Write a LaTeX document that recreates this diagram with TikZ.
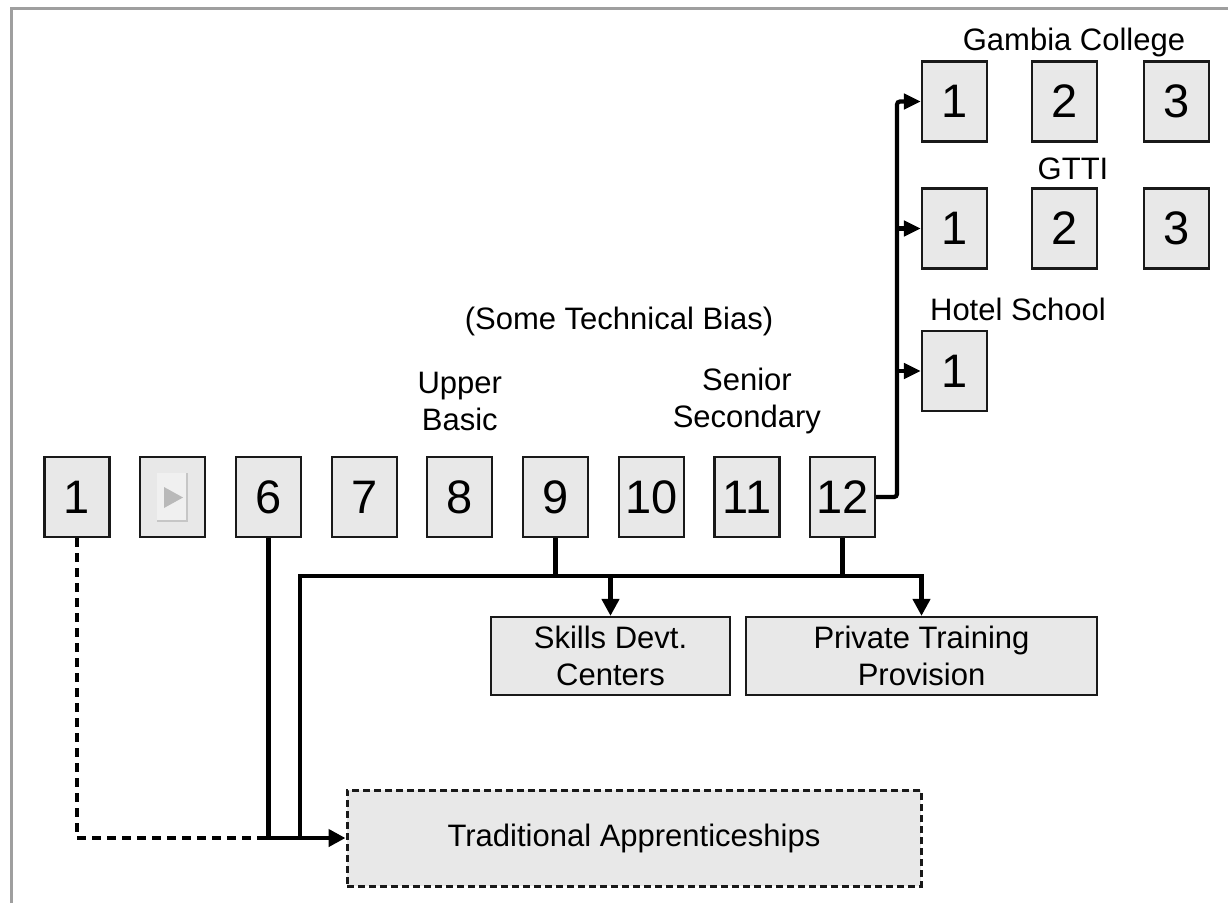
\documentclass[tikz,border=0pt]{standalone}
\usepackage{fontspec}
\setmainfont{Liberation Sans}
\usetikzlibrary{arrows.meta}
\definecolor{boxgray}{HTML}{E8E8E8}
\newcommand\digitfont{\fontsize{47}{50}\selectfont}
\newcommand\labelfont{\fontsize{31}{37}\selectfont}
\begin{document}
\begin{tikzpicture}[x=1pt,y=-1pt,
  yearbox/.style={draw=black!90, line width=2.2pt, fill=boxgray, minimum width=65pt, minimum height=80pt, inner sep=0pt, font=\digitfont},
  destbox/.style={draw=black!90, line width=2.2pt, fill=boxgray, minimum height=78pt, inner sep=0pt, align=center, font=\labelfont},
  lab/.style={font=\labelfont, align=center, inner sep=0pt},
  conn/.style={line width=4.6pt, black},
  arr/.style={conn, -{Triangle[length=17pt,width=17pt]}},
  sarr/.style={line width=4.2pt, black, -{Triangle[length=17pt,width=15pt]}},
  dconn/.style={line width=4pt, black, dash pattern=on 9pt off 6pt}
]
\useasboundingbox (0,0) rectangle (1228,903);
\draw[gray!75, line width=3pt] (11,903) -- (11,8) -- (1228,8);

% year boxes
\node[yearbox] (b1) at (77,497) {1};
\node[yearbox] (b2) at (172.7,497) {};
\node[yearbox] (b6) at (268.4,497) {6};
\node[yearbox] (b7) at (364.1,497) {7};
\node[yearbox] (b8) at (459.8,497) {8};
\node[yearbox] (b9) at (555.5,497) {9};
\node[yearbox] (b10) at (651.2,497) {10};
\node[yearbox] (b11) at (746.9,497) {11};
\node[yearbox] (b12) at (842.6,497) {12};

% play icon in b2
\fill[gray!12] (157,473) rectangle (188,522);
\draw[gray!45, line width=1.5pt] (187,473) -- (187,521) -- (157,521);
\fill[gray!55] (164,487) -- (183,497.5) -- (164,508) -- cycle;

% labels
\node[lab] (ub) at (459.8,401) {Upper\\Basic};
\node[lab] (ss) at (746.9,401) {Senior\\Secondary};
\node[lab] (tb) at (619,321) {(Some Technical Bias)};

% right column
\node[yearbox] (g1) at (954.5,101.5) {1};
\node[yearbox] (g2) at (1064.5,101.5) {2};
\node[yearbox] (g3) at (1176.5,101.5) {3};
\node[yearbox] (t1) at (954.5,228.5) {1};
\node[yearbox] (t2) at (1064.5,228.5) {2};
\node[yearbox] (t3) at (1176.5,228.5) {3};
\node[yearbox] (h1) at (954.5,371) {1};
\node[lab] (gc) at (1074,42) {Gambia College};
\node[lab] (gt) at (1073,169) {GTTI};
\node[lab] (hs) at (1018,309) {Hotel School};

% destination boxes
\node[destbox, minimum width=239pt] (skills) at (610.5,656) {Skills Devt.\\Centers};
\node[destbox, minimum width=351pt] (pvt) at (921.5,656) {Private Training\\Provision};
\node[destbox, dash pattern=on 7pt off 4pt, line width=3pt, minimum width=574pt, minimum height=96pt] (trad) at (634,838) {Traditional Apprenticeships};

% connectors to right column
\coordinate (spine) at (897,0);
\draw[sarr, rounded corners=3pt] (b12.east) -| (spine |- g1.west) -- (g1.west);
\draw[sarr] (spine |- t1.west) -- (t1.west);
\draw[sarr] (spine |- h1.west) -- (h1.west);

% bus
\coordinate (busL) at (300,576);
\draw[conn] (b9.south) -- (b9.south |- busL);
\draw[conn] (b12.south) -- (b12.south |- busL);
\draw[arr] (busL |- trad.west) -- (busL) -- (pvt.north |- busL) -- (pvt.north);
\draw[arr] (skills.north |- busL) -- (skills.north);
\draw[arr] (b6.south) |- (trad.west);
\draw[dconn] (b1.south) |- (b6.south |- trad.west);
\end{tikzpicture}
\end{document}
